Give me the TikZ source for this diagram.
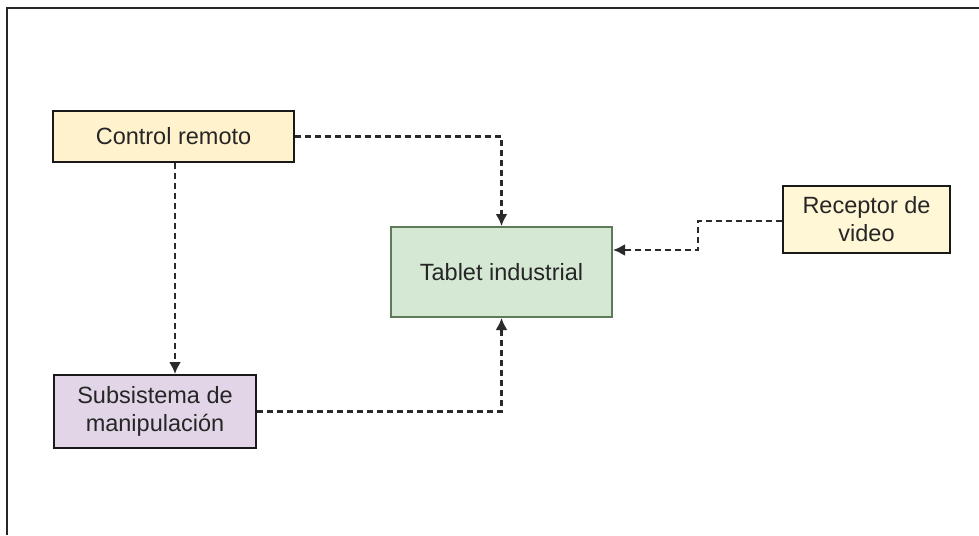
\documentclass[tikz,border=0pt]{standalone}
\usepackage{fontspec}
\setmainfont{Liberation Sans}
\usetikzlibrary{arrows.meta}
\definecolor{yelfill}{HTML}{FFF2CC}
\definecolor{yelfilltwo}{HTML}{FFF7D6}
\definecolor{grnfill}{HTML}{D5E8D4}
\definecolor{grnline}{HTML}{5E7A5A}
\definecolor{purfill}{HTML}{E1D5E7}
\definecolor{linkcol}{HTML}{2A2A2A}
\tikzset{
  x=1pt, y=-1pt,
  block/.style={draw=black!90, line width=2pt, inner sep=0pt, align=center,
    font=\fontsize{23.5}{28}\selectfont, text=black!85},
  link/.style={draw=linkcol, line width=2.2pt, dash pattern=on 6pt off 4pt,
    -{Latex[length=12pt,width=12pt]}},
}
\begin{document}
\begin{tikzpicture}
\useasboundingbox (0,0) rectangle (979,535);
\fill[white] (0,0) rectangle (979,535);
% outer frame
\draw[line width=2.4pt, black!85] (7,535) -- (7,8) -- (979,8);

% boxes
\node[block, fill=yelfill, minimum width=241pt, minimum height=51pt] (ctrl) at (173.5,136.5) {Control remoto};
\node[block, fill=grnfill, draw=grnline, minimum width=221pt, minimum height=90pt] (tab) at (501.5,272) {Tablet industrial};
\node[block, fill=yelfilltwo, minimum width=167pt, minimum height=67pt] (rec) at (866.5,219.5) {Receptor de\\video};
\node[block, fill=purfill, minimum width=202pt, minimum height=73pt] (sub) at (155,411.5) {Subsistema de\\manipulaci\'on};

% connectors
\coordinate (kr) at (698,221);
\coordinate (kt) at (698,250);
\draw[link] (ctrl.east) -| (tab.north);
\draw[link] (ctrl.south -| 175,0) -- (sub.north -| 175,0);
\draw[link] (sub.east) -| (tab.south);
\draw[link] (rec.west |- kr) -- (kr) -- (kt) -- (tab.east |- kt);
\end{tikzpicture}
\end{document}
